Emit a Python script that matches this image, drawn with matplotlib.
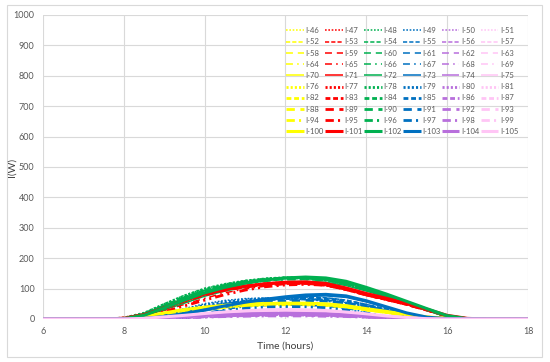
import numpy as np
import matplotlib
matplotlib.use("Agg")
import matplotlib.pyplot as plt
from matplotlib.patches import Rectangle

plt.rcParams['font.family'] = ['Lato', 'DejaVu Sans']
plt.rcParams['lines.scale_dashes'] = False

# sample times (hours)
hours = [6, 7.5, 8, 8.5, 9, 9.5, 10, 10.5, 11, 11.5, 12, 12.5, 13, 13.5, 14, 14.5, 15, 15.5, 16, 16.5, 17, 18]

# yellow group: I-46, I-52, ..., I-100
yellow = [
    [0, 0, 1, 7, 18, 29, 38, 44, 48, 50, 51, 50, 47, 41, 32, 23, 14, 6, 2, 0, 0, 0],
    [0, 0, 1, 6, 17, 28, 37, 43, 47, 49, 50, 49, 46, 40, 31, 22, 13, 6, 2, 0, 0, 0],
    [0, 0, 1, 6, 16, 26, 35, 41, 45, 47, 48, 47, 45, 39, 30, 21, 12, 5, 1, 0, 0, 0],
    [0, 0, 0, 4, 12, 21, 30, 37, 42, 45, 46, 46, 44, 38, 29, 20, 11, 4, 1, 0, 0, 0],
    [0, 0, 1, 7, 19, 30, 38, 44, 48, 50, 51, 51, 49, 43, 33, 24, 14, 7, 2, 0, 0, 0],
    [0, 0, 1, 6, 17, 28, 37, 43, 47, 49, 50, 49, 46, 40, 31, 22, 13, 6, 2, 0, 0, 0],
    [0, 0, 1, 5, 15, 25, 34, 41, 45, 47, 48, 48, 46, 40, 31, 22, 13, 6, 2, 0, 0, 0],
    [0, 0, 0, 4, 13, 23, 32, 39, 44, 46, 47, 47, 45, 39, 30, 21, 12, 5, 1, 0, 0, 0],
    [0, 0, 0, 4, 12, 22, 31, 38, 43, 45, 46, 46, 44, 39, 30, 21, 12, 5, 1, 0, 0, 0],
    [0, 0, 1, 8, 20, 31, 39, 45, 49, 51, 52, 52, 50, 44, 34, 25, 15, 7, 2, 0, 0, 0],
]

# red group: I-47, I-53, ..., I-101
red = [
    [0, 0, 3, 16, 40, 64, 86, 100, 110, 117, 121, 120, 114, 99, 81, 66, 50, 31, 11, 1, 0, 0],
    [0, 0, 3, 15, 38, 62, 83, 98, 108, 115, 120, 119, 113, 98, 80, 65, 49, 30, 10, 1, 0, 0],
    [0, 0, 2, 14, 36, 59, 80, 95, 106, 113, 118, 118, 112, 97, 79, 64, 48, 30, 10, 1, 0, 0],
    [0, 0, 1, 10, 28, 48, 68, 86, 99, 108, 114, 115, 110, 96, 78, 63, 47, 29, 10, 1, 0, 0],
    [0, 0, 2, 14, 37, 60, 81, 96, 107, 114, 119, 119, 114, 99, 81, 66, 50, 31, 11, 1, 0, 0],
    [0, 0, 3, 16, 39, 63, 85, 99, 109, 116, 120, 119, 113, 98, 80, 65, 49, 30, 10, 1, 0, 0],
    [0, 0, 3, 15, 37, 61, 82, 97, 107, 114, 118, 118, 112, 97, 79, 64, 48, 30, 10, 1, 0, 0],
    [0, 0, 2, 13, 35, 58, 79, 94, 105, 112, 117, 117, 111, 97, 79, 64, 48, 29, 10, 1, 0, 0],
    [0, 0, 1, 8, 24, 43, 62, 80, 95, 106, 112, 114, 111, 98, 80, 64, 48, 29, 10, 1, 0, 0],
    [0, 0, 2, 14, 36, 60, 82, 97, 108, 116, 121, 122, 117, 102, 84, 68, 51, 32, 12, 2, 0, 0],
]

# green group: I-48, I-54, ..., I-102
green = [
    [0, 0, 3, 20, 50, 78, 100, 115, 126, 133, 136, 134, 128, 114, 95, 74, 52, 30, 9, 0, 0, 0],
    [0, 0, 2, 17, 45, 72, 95, 112, 123, 131, 136, 136, 131, 118, 99, 78, 55, 32, 10, 0, 0, 0],
    [0, 0, 2, 16, 43, 70, 93, 110, 122, 130, 135, 135, 130, 117, 98, 77, 54, 31, 9, 0, 0, 0],
    [0, 0, 2, 15, 42, 68, 91, 108, 120, 128, 133, 133, 128, 115, 96, 75, 52, 30, 8, 0, 0, 0],
    [0, 0, 1, 10, 30, 52, 75, 92, 105, 115, 122, 124, 121, 110, 92, 72, 50, 28, 8, 0, 0, 0],
    [0, 0, 3, 19, 48, 76, 99, 114, 125, 132, 136, 135, 129, 116, 97, 76, 53, 31, 9, 0, 0, 0],
    [0, 0, 2, 16, 44, 71, 94, 111, 123, 131, 135, 136, 131, 118, 99, 78, 55, 32, 10, 0, 0, 0],
    [0, 0, 2, 15, 41, 67, 90, 107, 119, 127, 132, 133, 129, 116, 97, 76, 53, 31, 9, 0, 0, 0],
    [0, 0, 2, 14, 40, 66, 88, 105, 118, 126, 131, 132, 128, 116, 97, 76, 53, 30, 9, 0, 0, 0],
    [0, 0, 1, 12, 36, 62, 86, 104, 118, 128, 135, 138, 135, 124, 104, 82, 58, 34, 11, 1, 0, 0],
]

# blue group: I-49, I-55, ..., I-103
blue = [
    [0, 0, 1, 6, 18, 34, 50, 61, 67, 69, 70, 68, 63, 54, 42, 29, 16, 6, 1, 0, 0, 0],
    [0, 0, 0, 3, 12, 25, 40, 52, 60, 66, 70, 72, 70, 62, 48, 32, 17, 6, 1, 0, 0, 0],
    [0, 0, 0, 2, 9, 20, 33, 44, 52, 58, 62, 64, 62, 55, 43, 29, 15, 5, 1, 0, 0, 0],
    [0, 0, 0, 0, 0, 5, 20, 32, 40, 44, 46, 45, 42, 35, 22, 8, 1, 0, 0, 0, 0, 0],
    [0, 0, 0, 2, 7, 16, 27, 39, 50, 60, 68, 74, 76, 71, 56, 37, 18, 5, 1, 0, 0, 0],
    [0, 0, 1, 5, 16, 30, 45, 56, 63, 67, 68, 66, 61, 52, 40, 27, 14, 5, 1, 0, 0, 0],
    [0, 0, 0, 3, 11, 23, 37, 49, 57, 63, 67, 69, 67, 60, 46, 31, 16, 5, 1, 0, 0, 0],
    [0, 0, 0, 2, 8, 18, 30, 41, 49, 55, 59, 61, 59, 52, 40, 27, 14, 5, 1, 0, 0, 0],
    [0, 0, 0, 0, 0, 3, 16, 27, 35, 39, 41, 40, 37, 30, 18, 6, 1, 0, 0, 0, 0, 0],
    [0, 0, 0, 2, 8, 18, 30, 43, 55, 65, 73, 79, 81, 76, 60, 40, 20, 6, 1, 0, 0, 0],
]

# purple group: I-50, I-56, ..., I-104
purple = [
    [0, 0, 0, 1, 3, 6, 9, 11, 13, 14, 14, 14, 13, 11, 8, 5, 2, 0, 0, 0, 0, 0],
    [0, 0, 0, 1, 4, 7, 10, 13, 15, 16, 16, 16, 14, 12, 9, 5, 2, 0, 0, 0, 0, 0],
    [0, 0, 0, 1, 3, 5, 8, 10, 12, 13, 13, 13, 12, 10, 7, 4, 2, 0, 0, 0, 0, 0],
    [0, 0, 0, 0, 2, 4, 6, 8, 10, 11, 11, 11, 10, 8, 6, 3, 1, 0, 0, 0, 0, 0],
    [0, 0, 0, 1, 4, 7, 11, 14, 16, 17, 18, 17, 16, 13, 9, 6, 3, 1, 0, 0, 0, 0],
    [0, 0, 0, 1, 3, 6, 9, 12, 14, 15, 15, 15, 14, 11, 8, 5, 2, 0, 0, 0, 0, 0],
    [0, 0, 0, 1, 3, 5, 8, 11, 13, 14, 14, 14, 13, 11, 8, 4, 2, 0, 0, 0, 0, 0],
    [0, 0, 0, 0, 2, 4, 7, 9, 11, 12, 12, 12, 11, 9, 6, 4, 1, 0, 0, 0, 0, 0],
    [0, 0, 0, 0, 2, 4, 6, 8, 9, 10, 10, 10, 9, 8, 6, 3, 1, 0, 0, 0, 0, 0],
    [0, 0, 0, 1, 4, 8, 12, 15, 17, 18, 19, 18, 17, 14, 10, 6, 3, 1, 0, 0, 0, 0],
]

# pink group: I-51, I-57, ..., I-105
pink = [
    [0, 0, 0, 2, 6, 11, 16, 21, 25, 27, 28, 27, 25, 21, 15, 9, 4, 1, 0, 0, 0, 0],
    [0, 0, 0, 2, 5, 10, 15, 20, 24, 26, 27, 26, 24, 20, 14, 9, 4, 1, 0, 0, 0, 0],
    [0, 0, 0, 1, 5, 9, 14, 18, 22, 24, 25, 25, 23, 19, 14, 8, 4, 1, 0, 0, 0, 0],
    [0, 0, 0, 1, 4, 8, 12, 16, 20, 22, 23, 23, 21, 17, 12, 7, 3, 1, 0, 0, 0, 0],
    [0, 0, 0, 2, 6, 12, 18, 23, 27, 29, 30, 29, 27, 22, 16, 10, 5, 1, 0, 0, 0, 0],
    [0, 0, 0, 2, 6, 11, 17, 22, 26, 28, 29, 28, 26, 21, 15, 9, 4, 1, 0, 0, 0, 0],
    [0, 0, 0, 1, 5, 10, 15, 19, 23, 25, 26, 26, 24, 20, 14, 8, 4, 1, 0, 0, 0, 0],
    [0, 0, 0, 1, 4, 9, 13, 17, 21, 23, 24, 24, 22, 18, 13, 8, 3, 1, 0, 0, 0, 0],
    [0, 0, 0, 1, 4, 8, 12, 16, 19, 21, 22, 22, 20, 17, 12, 7, 3, 1, 0, 0, 0, 0],
    [0, 0, 0, 2, 7, 12, 18, 23, 27, 30, 31, 30, 28, 23, 17, 10, 5, 1, 0, 0, 0, 0],
]

groups = [yellow, red, green, blue, purple, pink]
colors = ['#FFFF00', '#FF0000', '#00B050', '#0070C0', '#B86FDC', '#FFC5F5']

# one style per row of the legend (I-46.., I-52.., ... I-100..)
styles = [
    ((0, (1.2, 1.2)), 1.1),
    ((0, (3, 1.5)), 1.1),
    ((0, (5, 3.5)), 1.1),
    ((0, (5, 3, 1.2, 3)), 1.1),
    ('-', 1.1),
    ((0, (1.5, 1.5)), 2.0),
    ((0, (3.5, 2)), 2.0),
    ((0, (6, 4)), 2.0),
    ((0, (6, 3, 1.5, 3, 1.5, 3)), 2.0),
    ('-', 2.2),
]

fig = plt.figure(figsize=(5.5, 3.62), dpi=100)
ax = fig.add_axes([0.078, 0.1188, 0.882, 0.8398])

handles = []
for row in range(10):
    for col in range(6):
        num = 46 + row * 6 + col
        ls, lw = styles[row]
        line, = ax.plot(hours, groups[col][row], color=colors[col], linestyle=ls,
                        linewidth=lw, label='I-{}'.format(num), solid_capstyle='butt')
        handles.append(line)

ax.set_xlim(6, 18)
ax.set_ylim(0, 1000)
ax.set_xticks(np.arange(6, 19, 2))
ax.set_yticks(np.arange(0, 1001, 100))
ax.grid(True, color='#D9D9D9', linewidth=0.8)
ax.set_axisbelow(True)
for s in ax.spines.values():
    s.set_visible(False)
ax.tick_params(length=0, labelsize=6.5, colors='#595959', pad=6)
ax.set_xlabel('Time (hours)', fontsize=7.5, color='#404040', labelpad=4)
fig.text(12 / 550, 1 - 167 / 362, 'I(W)', rotation=90, fontsize=7.5, color='#404040',
         ha='center', va='center')

# legend is filled column by column in matplotlib, Excel fills it by rows
order = [col + 6 * row for col in range(6) for row in range(10)]
leg = ax.legend([handles[i] for i in order], [handles[i].get_label() for i in order],
                ncol=6, loc='upper right', bbox_to_anchor=(0.99, 0.975), frameon=False,
                fontsize=5.5, handlelength=2.3, handletextpad=0.25, columnspacing=0.15,
                labelspacing=0.55, borderaxespad=0.2)
for t in leg.get_texts():
    t.set_color('#595959')

fig.patches.append(Rectangle((7 / 550, 1 - 357 / 362), 535 / 550, 352 / 362,
                             transform=fig.transFigure, fill=False,
                             edgecolor='#D9D9D9', linewidth=0.8))

fig.savefig('out.png', dpi=100)
